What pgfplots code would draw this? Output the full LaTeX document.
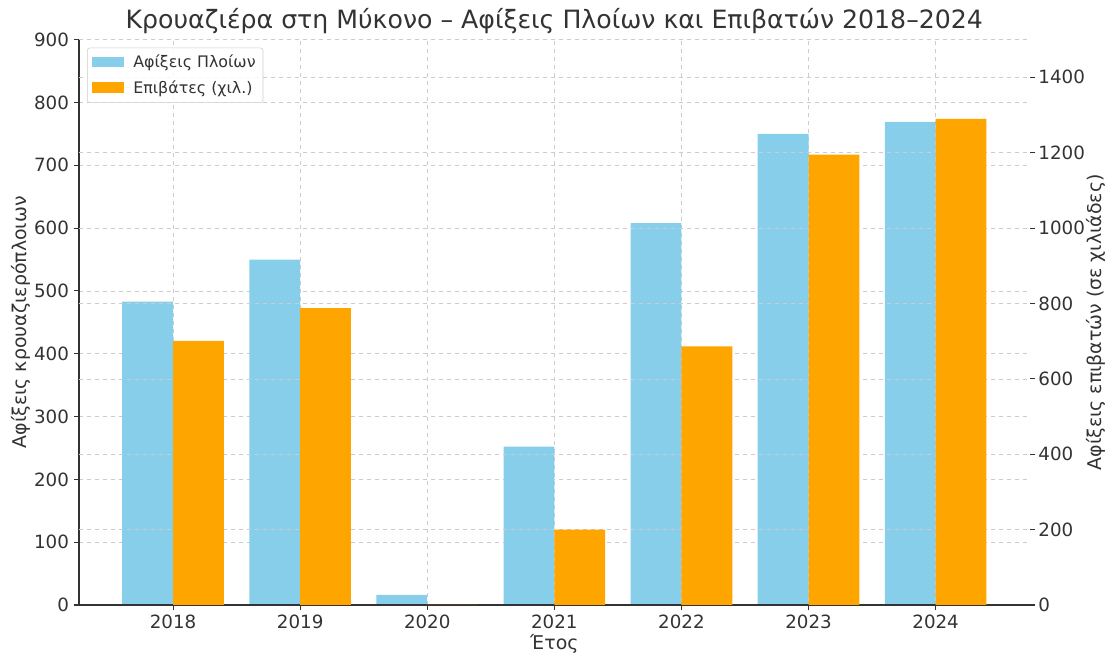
\documentclass[border=0pt]{standalone}
\usepackage{pgfplots}
\pgfplotsset{compat=1.18}
\usepackage{pgfplotstable}
\usepackage{fontspec}
\setmainfont{DejaVu Sans}
\definecolor{sky}{HTML}{87CEEB}
\definecolor{org}{HTML}{FFA500}
\definecolor{txt}{HTML}{333333}
\definecolor{gridc}{HTML}{CCCCCC}

\pgfplotstableread{
x ships pax
0 483 701
1 550 788
2 16 0
3 252 200
4 608 686
5 750 1195
6 769 1290
}\data

\pgfplotsset{
  common/.style={
    scale only axis, width=713pt, height=424pt,
    xmin=-0.74, xmax=6.74,
    /pgf/number format/assume math mode=true,
    /pgf/number format/1000 sep={},
    ticklabel style={font=\fontsize{13.7}{16}\selectfont, text=txt},
    label style={font=\fontsize{14.2}{17}\selectfont, text=txt},
    tick align=outside, major tick length=4pt,
    tick style={txt, line width=0.8pt},
    grid style={dashed, gridc, line width=0.5pt},
  }
}

\begin{document}
\begin{tikzpicture}
\begin{axis}[common,
  ymin=0, ymax=900, ytick={0,100,...,900},
  axis x line*=bottom, axis y line*=left,
  axis line style={txt, line width=1pt, -},
  xtick={0,...,6}, xticklabels={2018,2019,2020,2021,2022,2023,2024},
  xmajorgrids, ymajorgrids,
  xlabel={Έτος}, ylabel={Αφίξεις κρουαζιερόπλοιων},
  ylabel shift=-4pt, xlabel shift=-2.5pt,
  title={Κρουαζιέρα στη Μύκονο – Αφίξεις Πλοίων και Επιβατών 2018–2024},
  title style={font=\fontsize{18.9}{22}\selectfont, text=txt, yshift=-5pt},
]
\addplot[ybar, bar width=0.4, bar shift=-0.2, fill=sky, draw=none] table[x=x, y=ships] {\data};
\end{axis}
\begin{axis}[common,
  ymin=0, ymax=1500, ytick={0,200,...,1400},
  axis y line*=right, axis x line*=bottom,
  xtick=\empty,
  y axis line style={draw=none},
  x axis line style={txt, line width=1pt, -},
  yticklabel style={xshift=-1pt},
  ymajorgrids,
  ylabel={Αφίξεις επιβατών (σε χιλιάδες)},
  ylabel shift=-6pt,
  legend style={at={(rel axis cs:0,1)}, xshift=6pt, yshift=-6pt, anchor=north west, draw=gridc, rounded corners=2pt,
    font=\fontsize{11.9}{14}\selectfont, text=txt, fill=white, fill opacity=0.85, text opacity=1,
    row sep=4pt, inner sep=3.5pt},
  legend cell align=left,
]
\addlegendimage{legend image code/.code={\fill[sky, draw=none, sharp corners, fill opacity=1] (0pt,-3.5pt) rectangle (24pt,4.5pt); \path[draw=none] (0pt,0pt) -- (29pt,0pt);}}
\addlegendentry{Αφίξεις Πλοίων}
\addplot[ybar, bar width=0.4, bar shift=0.2, fill=org, draw=none,
  legend image code/.code={\fill[org, draw=none, sharp corners, fill opacity=1] (0pt,-3.5pt) rectangle (24pt,4.5pt); \path[draw=none] (0pt,0pt) -- (29pt,0pt);}] table[x=x, y=pax] {\data};
\addlegendentry{Επιβάτες (χιλ.)}
\end{axis}
\pgfresetboundingbox
\path (-59.25pt,-37.5pt) rectangle (773.25pt,453.75pt);
\end{tikzpicture}
\end{document}
